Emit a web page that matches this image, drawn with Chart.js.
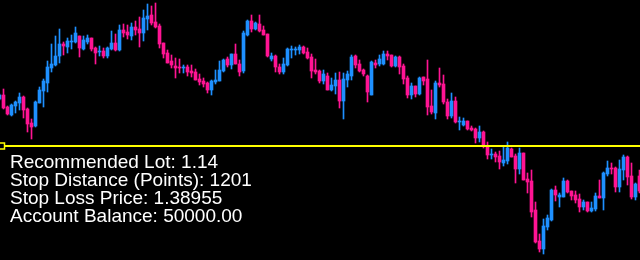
<!DOCTYPE html>
<html>
<head>
<meta charset="utf-8">
<script src="https://cdn.jsdelivr.net/npm/chart.js@4.4.0/dist/chart.umd.min.js"></script>
<style>
  html, body { margin: 0; padding: 0; background: #000; }
  #wrap { position: relative; width: 640px; height: 260px; overflow: hidden; background: #000; }
  #c { position: absolute; left: 0; top: 0; }
  #info { position: absolute; left: 10px; top: 153px; color: #fff;
          font-family: "Liberation Sans", Arial, sans-serif; font-size: 19px; line-height: 18px;
          white-space: nowrap; }
</style>
</head>
<body>
<div id="wrap">
  <canvas id="c" width="640" height="260"></canvas>
  <div id="info"></div>
</div>
<script>
const opens = [
1.39425,1.39465,1.39345,1.39265,1.39355,1.39385,1.39445,1.39325,1.39185,1.39155,
1.39385,1.39505,1.39585,1.39735,1.39765,1.39855,1.39975,1.39945,1.39995,1.39995,
1.40055,1.39925,1.39995,1.40035,1.39935,1.39895,1.39905,1.39855,1.39925,1.39985,
1.39915,1.40115,1.40095,1.40055,1.40145,1.40125,1.40085,1.40225,1.40265,1.40195,
1.40155,1.39985,1.39885,1.39805,1.39755,1.39745,1.39735,1.39745,1.39705,1.39695,
1.39625,1.39605,1.39585,1.39515,1.39595,1.39605,1.39705,1.39825,1.39765,1.39875,
1.39775,1.39705,1.40065,1.40205,1.40125,1.40175,1.40115,1.40075,1.39825,1.39855,
1.39745,1.39695,1.39765,1.39915,1.39915,1.39915,1.39945,1.39895,1.39845,1.39715,
1.39705,1.39605,1.39655,1.39515,1.39555,1.39615,1.39405,1.39615,1.39655,1.39855,
1.39775,1.39715,1.39655,1.39465,1.39785,1.39775,1.39775,1.39875,1.39865,1.39755,
1.39845,1.39755,1.39635,1.39465,1.39555,1.39475,1.39645,1.39625,1.39355,1.39285,
1.39585,1.39575,1.39395,1.39255,1.39405,1.39195,1.39165,1.39205,1.39135,1.39125,
1.39035,1.39095,1.38955,1.38865,1.38875,1.38855,1.38785,1.38805,1.38925,1.38855,
1.38725,1.38885,1.38625,1.38605,1.38315,1.38005,1.37925,1.38145,1.38215,1.38515,
1.38445,1.38445,1.38605,1.38505,1.38465,1.38425,1.38345,1.38395,1.38305,1.38325,
1.38455,1.38435,1.38675,1.38735,1.38735,1.38545,1.38715,1.38845,1.38655,1.38445,
1.38655
];
const highs = [
1.39475,1.39525,1.39355,1.39375,1.39405,1.39485,1.39455,1.39335,1.39225,1.39405,
1.39545,1.39625,1.39805,1.39975,1.40055,1.40125,1.39995,1.40035,1.40065,1.40145,
1.40055,1.40055,1.40065,1.40035,1.39945,1.39955,1.39935,1.39945,1.40105,1.40075,
1.40165,1.40175,1.40165,1.40185,1.40205,1.40245,1.40315,1.40375,1.40355,1.40385,
1.40175,1.39985,1.39915,1.39865,1.39835,1.39825,1.39765,1.39765,1.39765,1.39725,
1.39675,1.39635,1.39595,1.39615,1.39715,1.39805,1.39825,1.39845,1.39875,1.39975,
1.39815,1.40105,1.40215,1.40265,1.40195,1.40265,1.40155,1.40075,1.39885,1.39865,
1.39775,1.39835,1.39935,1.39955,1.39945,1.39965,1.39955,1.39935,1.39875,1.39825,
1.39715,1.39715,1.39685,1.39635,1.39685,1.39695,1.39685,1.39705,1.39865,1.39865,
1.39815,1.39725,1.39665,1.39805,1.39815,1.39865,1.39905,1.39905,1.39865,1.39855,
1.39855,1.39775,1.39655,1.39585,1.39555,1.39645,1.39645,1.39815,1.39515,1.39605,
1.39735,1.39665,1.39425,1.39485,1.39445,1.39245,1.39235,1.39205,1.39155,1.39135,
1.39155,1.39105,1.38995,1.38925,1.38895,1.38905,1.38945,1.38995,1.38935,1.38875,
1.38935,1.38885,1.38685,1.38715,1.38395,1.38075,1.38225,1.38265,1.38525,1.38555,
1.38485,1.38635,1.38615,1.38505,1.38505,1.38475,1.38415,1.38395,1.38395,1.38485,
1.38615,1.38695,1.38805,1.38785,1.38745,1.38815,1.38865,1.38855,1.38785,1.38585,
1.38715
];
const lows = [
1.39415,1.39325,1.39265,1.39255,1.39285,1.39315,1.39235,1.39095,1.39025,1.39145,
1.39385,1.39345,1.39495,1.39695,1.39755,1.39785,1.39865,1.39885,1.39925,1.39985,
1.39845,1.39915,1.39975,1.39905,1.39775,1.39855,1.39835,1.39835,1.39915,1.39905,
1.39905,1.40045,1.40025,1.40015,1.40065,1.39945,1.40005,1.40115,1.40165,1.40135,
1.39935,1.39835,1.39785,1.39735,1.39635,1.39685,1.39685,1.39655,1.39645,1.39615,
1.39565,1.39545,1.39485,1.39465,1.39575,1.39605,1.39695,1.39745,1.39725,1.39775,
1.39655,1.39685,1.40055,1.40095,1.40115,1.40095,1.40065,1.39845,1.39805,1.39695,
1.39675,1.39675,1.39755,1.39835,1.39865,1.39875,1.39875,1.39825,1.39635,1.39675,
1.39585,1.39575,1.39515,1.39505,1.39475,1.39335,1.39225,1.39545,1.39615,1.39735,
1.39695,1.39655,1.39395,1.39465,1.39735,1.39755,1.39765,1.39815,1.39745,1.39745,
1.39675,1.39575,1.39435,1.39425,1.39445,1.39465,1.39565,1.39265,1.39275,1.39225,
1.39545,1.39375,1.39225,1.39235,1.39185,1.39115,1.39155,1.39115,1.39105,1.38985,
1.38995,1.38935,1.38825,1.38825,1.38795,1.38725,1.38755,1.38775,1.38845,1.38585,
1.38675,1.38615,1.38485,1.38245,1.37985,1.37895,1.37875,1.38115,1.38205,1.38405,
1.38345,1.38445,1.38485,1.38415,1.38385,1.38295,1.38315,1.38295,1.38295,1.38305,
1.38435,1.38315,1.38655,1.38675,1.38495,1.38495,1.38615,1.38565,1.38425,1.38415,
1.38485
];
const closes = [
1.39465,1.39335,1.39275,1.39365,1.39395,1.39445,1.39315,1.39175,1.39145,1.39395,
1.39515,1.39605,1.39745,1.39775,1.39855,1.39975,1.39955,1.40005,1.40005,1.40085,
1.39935,1.40015,1.40035,1.39925,1.39885,1.39905,1.39855,1.39935,1.39985,1.39915,
1.40115,1.40085,1.40065,1.40145,1.40115,1.40085,1.40235,1.40255,1.40185,1.40145,
1.39975,1.39875,1.39785,1.39765,1.39735,1.39735,1.39745,1.39695,1.39685,1.39615,
1.39595,1.39575,1.39515,1.39605,1.39615,1.39715,1.39815,1.39765,1.39875,1.39775,
1.39695,1.40085,1.40205,1.40125,1.40185,1.40105,1.40065,1.39855,1.39855,1.39745,
1.39695,1.39775,1.39925,1.39925,1.39925,1.39945,1.39885,1.39835,1.39705,1.39695,
1.39605,1.39675,1.39515,1.39565,1.39615,1.39405,1.39625,1.39675,1.39845,1.39765,
1.39705,1.39675,1.39495,1.39795,1.39765,1.39825,1.39875,1.39855,1.39755,1.39845,
1.39745,1.39625,1.39465,1.39555,1.39475,1.39635,1.39605,1.39345,1.39295,1.39585,
1.39565,1.39395,1.39255,1.39405,1.39195,1.39205,1.39205,1.39125,1.39115,1.39035,
1.39095,1.38955,1.38865,1.38875,1.38845,1.38795,1.38815,1.38935,1.38845,1.38725,
1.38885,1.38615,1.38595,1.38295,1.37995,1.37925,1.38155,1.38235,1.38515,1.38465,
1.38465,1.38605,1.38495,1.38455,1.38415,1.38345,1.38395,1.38305,1.38335,1.38455,
1.38435,1.38685,1.38735,1.38725,1.38545,1.38725,1.38845,1.38645,1.38445,1.38575,
1.38505
];
const stopLossPrice = 1.38955;
const infoLines = [
  "Recommended Lot: 1.14",
  "Stop Distance (Points): 1201",
  "Stop Loss Price: 1.38955",
  "Account Balance: 50000.00"
];

const BULL = '#1e90ff', BEAR = '#ff1493', SL = '#ffff00';
const wickData = opens.map((o, i) => ({ x: i, y: [lows[i], highs[i]] }));
const bodyData = opens.map((o, i) => ({ x: i, y: [o, closes[i]] }));
const colorOf = (ctx) => {
  const i = ctx.dataIndex;
  return closes[i] >= opens[i] ? BULL : BEAR;
};
const xMin = 0.125, xMax = opens.length - 1 + 0.125;

new Chart(document.getElementById('c'), {
  type: 'bar',
  data: {
    datasets: [
      { type: 'line', data: [{ x: xMin, y: stopLossPrice }, { x: xMax, y: stopLossPrice }],
        borderColor: SL, borderWidth: 2, pointRadius: 0, order: 0, clip: false },
      { type: 'scatter', data: [{ x: 0.5, y: stopLossPrice }], pointStyle: 'rect',
        pointRadius: 4.25, backgroundColor: '#000', borderColor: SL, borderWidth: 1.5, order: -1, clip: false },
      { data: bodyData, backgroundColor: colorOf, borderWidth: 0, barThickness: 3, grouped: false, order: 1 },
      { data: wickData, backgroundColor: colorOf, borderWidth: 0, barThickness: 1, grouped: false, order: 2 }
    ]
  },
  options: {
    responsive: false,
    animation: false,
    devicePixelRatio: 1,
    layout: { padding: 0, autoPadding: false },
    plugins: { legend: { display: false }, tooltip: { enabled: false } },
    scales: {
      x: { type: 'linear', min: xMin, max: xMax, display: false, offset: false },
      y: { min: 1.37815, max: 1.40415, display: false }
    }
  }
});

const info = document.getElementById('info');
infoLines.forEach(t => { const d = document.createElement('div'); d.textContent = t; info.appendChild(d); });
</script>
</body>
</html>
